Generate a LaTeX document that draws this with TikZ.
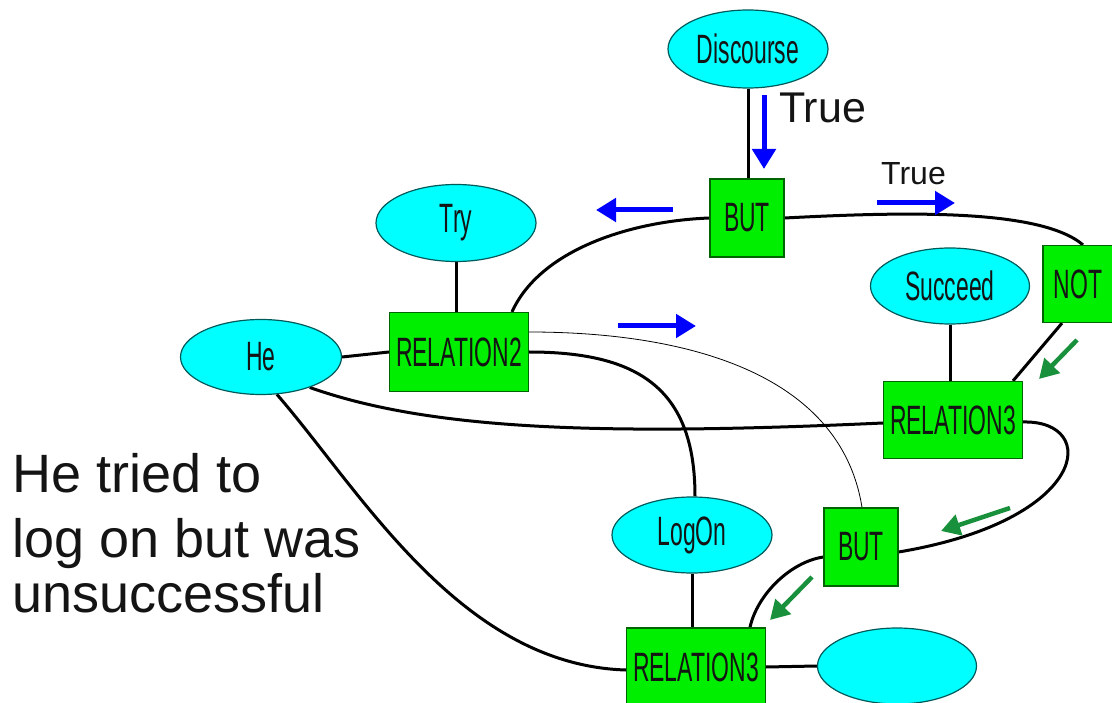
\documentclass[tikz,border=0pt]{standalone}
\usepackage{fontspec}
\setmainfont{Liberation Sans}
\newfontfamily\narrowfont[FakeStretch=0.56]{Liberation Sans}
\usetikzlibrary{arrows.meta,shapes.geometric,backgrounds}
\definecolor{conceptfill}{RGB}{0,255,255}
\definecolor{conceptline}{RGB}{0,90,90}
\definecolor{relfill}{RGB}{0,238,0}
\definecolor{relline}{RGB}{0,100,0}
\definecolor{flowgreencol}{RGB}{25,145,60}
\definecolor{labeltext}{RGB}{20,20,20}
\begin{document}
\begin{tikzpicture}[x=1pt,y=-1pt,
  concept/.style={ellipse, draw=conceptline, line width=1.2pt, fill=conceptfill, inner sep=0pt,
    text=labeltext, font=\narrowfont\fontsize{41}{44}\selectfont},
  relbox/.style={rectangle, draw=relline, line width=1.2pt, fill=relfill, inner sep=0pt,
    text=labeltext, font=\narrowfont\fontsize{41}{44}\selectfont},
  link/.style={line width=3pt, black},
  thinlink/.style={line width=0.8pt, black},
  flowblue/.style={line width=5pt, blue, -{Triangle[length=20pt,width=23pt]}},
  flowgreen/.style={line width=4.5pt, flowgreencol, -{Triangle[length=19pt,width=21pt]}},
  bigtext/.style={text=labeltext, inner sep=0pt}
]
\useasboundingbox (0,0) rectangle (1112,703);

% nodes
\node[concept, minimum width=160pt, minimum height=78pt] (disc) at (748,49) {Discourse};
\node[relbox, minimum width=74pt, minimum height=78pt] (but1) at (747,218) {BUT};
\node[concept, minimum width=160pt, minimum height=77pt] (try) at (456,223) {Try};
\node[relbox, minimum width=139pt, minimum height=79pt] (rel2) at (459,352) {RELATION2};
\node[concept, minimum width=161pt, minimum height=75pt] (he) at (261,357) {He};
\node[concept, minimum width=159pt, minimum height=76pt] (succ) at (950,286) {Succeed};
\node[relbox, minimum width=70pt, minimum height=77pt] (not) at (1078,284) {NOT};
\node[relbox, minimum width=139pt, minimum height=77pt] (rel3a) at (953,420) {RELATION3};
\node[relbox, minimum width=74pt, minimum height=78pt] (but2) at (861,547) {BUT};
\node[concept, minimum width=160pt, minimum height=76pt] (logon) at (692,535) {LogOn};
\node[relbox, minimum width=139pt, minimum height=78pt] (rel3b) at (696,667) {RELATION3};
\node[concept, minimum width=159pt, minimum height=76pt] (blank) at (897,666) {};

% connectors (under the nodes)
\begin{pgfonlayer}{background}
\draw[link] (disc.south) -- (disc.south |- but1.north);
\draw[link] (try.south) -- (try.south |- rel2.north);
\draw[link] (he.east) -- (rel2.west);
\draw[link] (succ.south) -- (succ.south |- rel3a.north);
\draw[link] ([xshift=-16pt]not.south) -- ([xshift=60pt]rel3a.north);
\draw[link] (but1.east) .. controls (900,212) and (1040,208) .. ([xshift=5pt]not.north);
\draw[link] (but1.west) .. controls (630,221) and (540,250) .. ([xshift=53pt]rel2.north);
\draw[thinlink] ([yshift=20pt]rel2.east) .. controls (680,332) and (840,370) .. ([xshift=1pt]but2.north);
\draw[link] (rel2.east) .. controls (640,352) and (695,390) .. ([xshift=3pt]logon.north);
\draw[link] (he.328) .. controls (430,430) and (600,436) .. ([yshift=-3pt]rel3a.west);
\draw[link] (he.293) .. controls (360,490) and (460,665) .. ([yshift=-3pt]rel3b.west);
\draw[link] ([yshift=-2pt]rel3a.east) .. controls (1100,420) and (1090,520) .. ([yshift=-5pt]but2.east);
\draw[link] ([yshift=-10pt]but2.west) .. controls (790,562) and (757,595) .. ([xshift=54pt]rel3b.north);
\draw[link] (logon.south) -- (logon.south |- rel3b.north);
\draw[link] (rel3b.east) -- (blank.west);
\end{pgfonlayer}

% flow arrows
\coordinate (fa1s) at (764,95);  \coordinate (fa1e) at (764,169);
\coordinate (fa2s) at (673,210); \coordinate (fa2e) at (596,210);
\coordinate (fa3s) at (877,203); \coordinate (fa3e) at (955,203);
\coordinate (fa4s) at (618,326); \coordinate (fa4e) at (696,326);
\coordinate (fg1s) at (1077,340); \coordinate (fg1e) at (1039,379);
\coordinate (fg2s) at (1010,508); \coordinate (fg2e) at (941,531);
\coordinate (fg3s) at (812,577);  \coordinate (fg3e) at (770,620);
\draw[flowblue] (fa1s) -- (fa1e);
\draw[flowblue] (fa2s) -- (fa2e);
\draw[flowblue] (fa3s) -- (fa3e);
\draw[flowblue] (fa4s) -- (fa4e);
\draw[flowgreen] (fg1s) -- (fg1e);
\draw[flowgreen] (fg2s) -- (fg2e);
\draw[flowgreen] (fg3s) -- (fg3e);

% labels
\node[bigtext, anchor=base west, font=\fontsize{43}{48}\selectfont] (truebig) at (779,123) {True};
\node[bigtext, anchor=base west, font=\fontsize{32}{36}\selectfont] (truesmall) at (881,185) {True};
\node[bigtext, anchor=base west, font=\fontsize{54}{60}\selectfont] (sent1) at (12,492) {He tried to};
\node[bigtext, anchor=base west, font=\fontsize{54}{60}\selectfont] (sent2) at (12,557) {log on but was};
\node[bigtext, anchor=base west, font=\fontsize{54}{60}\selectfont] (sent3) at (12,612) {unsuccessful};
\end{tikzpicture}
\end{document}
